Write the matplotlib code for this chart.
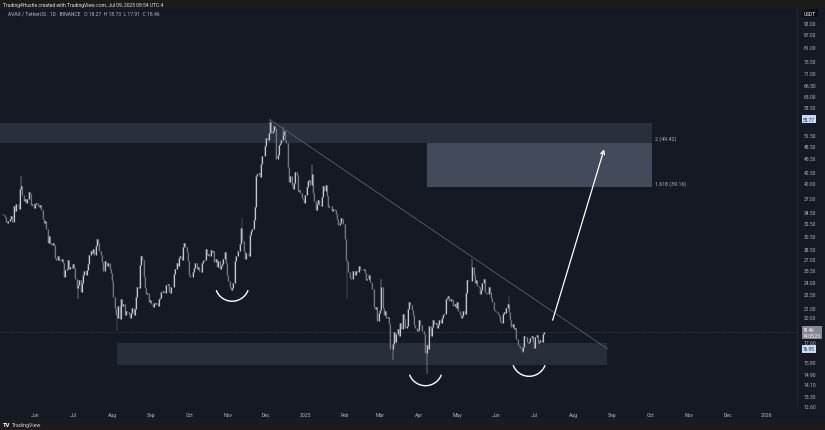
import numpy as np
import pandas as pd
import matplotlib
matplotlib.use("Agg")
import matplotlib.pyplot as plt
import matplotlib.dates as mdates
from matplotlib.patches import Rectangle
from matplotlib.ticker import NullLocator

# --- CONFIGURATION ---
W, H, DPI = 825, 431, 100
BG = "#151924"
BAR = "#1b1b1d"
TXT = "#b2b5be"
UP = "#c4c7cf"
DOWN = "#737784"
plt.rcParams["font.family"] = ["Roboto", "DejaVu Sans"]

# --- DATA (AVAX / USDT daily closes) ---
START_DATE = "2024-05-07"
FIRST_OPEN = 34.2
c_2024_05 = [33.9, 33.5, 32.8, 32.6, 32.9, 33.2, 33.8, 32.7, 35.5, 34.6, 35.9, 36.0, 35.1,
             38.9, 39.5, 37.6, 36.4, 36.9, 36.2, 36.8, 38.3, 37.9, 35.8, 36.0, 35.2]
c_2024_06 = [35.9, 36.1, 35.6, 35.4, 35.7, 34.9, 33.2, 32.6, 32.9, 31.6, 29.3, 30.4, 29.4, 29.1,
             29.3, 29.0, 27.2, 26.9, 27.5, 26.9, 26.8, 27.0, 26.4, 24.6, 25.5, 25.6, 26.9, 25.7,
             25.9, 25.8]
c_2024_07 = [26.3, 25.8, 24.3, 23.2, 23.6, 24.2, 22.8, 23.9, 24.8, 25.4, 24.9, 25.5, 26.3, 27.6,
             28.1, 27.9, 28.4, 27.6, 28.9, 30.0, 29.4, 28.2, 27.6, 26.6, 25.4, 26.8, 26.4, 26.0,
             26.5, 25.7, 25.1]
c_2024_08 = [24.1, 22.2, 21.0, 20.2, 19.9, 21.2, 19.8, 22.0, 21.2, 21.4, 20.2, 20.6, 20.5, 20.3,
             19.9, 20.4, 20.9, 20.2, 20.8, 22.2, 23.3, 23.2, 26.2, 27.4, 26.9, 24.6, 23.2, 22.5,
             22.6, 21.6, 21.8]
c_2024_09 = [21.4, 21.1, 21.5, 21.4, 21.5, 21.2, 21.9, 22.1, 22.8, 22.9, 22.7, 22.7, 23.6, 23.7,
             22.8, 22.7, 23.3, 23.3, 25.0, 25.6, 26.5, 26.0, 27.2, 27.5, 26.9, 28.7, 29.3, 28.8,
             28.0, 26.7]
c_2024_10 = [24.8, 24.6, 24.6, 25.3, 25.8, 26.4, 25.7, 25.9, 25.4, 25.3, 26.4, 26.7, 26.9, 28.5,
             27.6, 27.7, 27.4, 28.3, 28.0, 28.1, 26.6, 27.0, 25.9, 26.7, 25.7, 26.1, 26.3, 27.0,
             28.0, 26.4, 24.9]
c_2024_11 = [24.1, 23.3, 23.0, 23.2, 23.8, 26.8, 27.5, 27.4, 28.2, 29.2, 31.7, 29.6, 28.2, 27.0,
             27.8, 27.9, 27.5, 30.6, 31.2, 31.6, 33.0, 35.4, 41.6, 41.9, 42.1, 41.3, 44.3, 46.2,
             46.0, 48.5]
c_2024_12 = [50.6, 50.2, 51.9, 54.9, 52.0, 52.5, 53.9, 53.3, 45.4, 46.3, 48.9, 49.3, 50.1, 51.4,
             52.6, 50.0, 49.2, 43.5, 40.3, 41.6, 39.6, 38.9, 40.1, 42.4, 41.8, 38.4, 38.7, 38.1,
             37.0, 36.8, 36.2]
c_2025_01 = [37.6, 39.2, 40.5, 40.6, 39.7, 42.0, 38.1, 36.4, 34.8, 35.9, 36.6, 35.8, 35.5, 37.2,
             39.4, 38.4, 39.6, 37.5, 35.3, 35.5, 35.6, 34.6, 35.0, 34.8, 34.2, 33.2, 32.3, 32.6,
             33.4, 33.2, 32.4]
c_2025_02 = [30.0, 26.9, 26.6, 25.3, 24.5, 24.3, 24.4, 25.4, 24.9, 25.4, 25.2, 26.1, 25.7, 25.5,
             25.5, 25.6, 25.1, 24.2, 24.3, 24.9, 24.0, 23.9, 23.1, 21.1, 20.8, 21.1, 19.6, 20.4]
c_2025_03 = [20.7, 23.3, 21.0, 20.2, 20.6, 19.9, 20.0, 19.3, 16.9, 16.9, 17.4, 18.5, 17.6, 18.3,
             18.8, 18.1, 19.4, 18.8, 20.3, 19.8, 18.9, 19.1, 20.8, 21.6, 21.3, 20.7, 20.2, 19.2,
             18.9, 18.6, 18.7]
c_2025_04 = [19.7, 19.2, 18.6, 18.6, 18.3, 16.6, 17.3, 16.9, 19.1, 18.1, 19.0, 19.7, 19.3, 19.4,
             18.9, 19.2, 19.7, 19.4, 19.9, 20.2, 20.3, 22.0, 22.1, 22.3, 21.7, 21.9, 21.8, 21.2,
             21.4, 20.9]
c_2025_05 = [21.6, 20.6, 20.3, 19.9, 20.1, 20.6, 20.3, 22.6, 24.2, 24.1, 24.1, 24.1, 25.9, 24.8,
             23.9, 24.2, 23.5, 23.3, 22.5, 23.0, 23.9, 24.4, 22.8, 22.6, 22.5, 23.4, 22.8, 22.1,
             21.6, 20.7, 20.6]
c_2025_06 = [20.5, 20.3, 20.1, 19.6, 19.4, 20.3, 20.5, 20.4, 21.0, 21.4, 20.5, 19.7, 19.0, 19.3,
             18.8, 18.9, 17.8, 17.3, 17.2, 17.0, 16.8, 17.1, 18.1, 18.0, 17.6, 17.5, 17.6, 17.9,
             18.1, 17.6]
c_2025_07 = [17.0, 18.0, 18.2, 17.5, 17.6, 17.7, 17.6, 18.3, 18.46]

# notable wick extremes
wick_highs = {"2024-05-21": 41.5, "2024-11-12": 33.4, "2024-12-04": 55.77, "2024-12-14": 53.5,
              "2025-01-06": 44.0, "2025-03-02": 24.3, "2025-05-13": 27.0, "2025-06-11": 22.3}
wick_lows = {"2024-07-05": 21.9, "2024-08-05": 18.6, "2025-02-03": 22.0, "2025-03-11": 16.0,
             "2025-04-07": 14.9, "2025-06-22": 16.6, "2025-07-01": 16.9}

y_ticks = [92.00, 87.00, 81.00, 75.50, 71.00, 66.50, 63.00, 59.50, 51.50, 48.50, 45.50, 42.50,
           40.00, 37.00, 34.50, 32.50, 30.50, 28.50, 27.00, 25.50, 24.00, 22.50, 21.00, 20.00,
           17.60, 15.80, 14.90, 14.10, 13.30, 12.60]
month_ticks = pd.date_range("2024-06-01", "2026-01-01", freq="MS")
month_labels = ["Jun", "Jul", "Aug", "Sep", "Oct", "Nov", "Dec", "2025", "Feb", "Mar", "Apr",
                "May", "Jun", "Jul", "Aug", "Sep", "Oct", "Nov", "Dec", "2026"]

# drawings on the chart
top_zone = ("2024-05-04", "2025-10-02", 49.2, 54.8)
low_zone = ("2024-08-05", "2025-08-28", 15.6, 17.5)
fib_box = ("2025-04-07", "2025-10-02", 39.16, 49.42)
trend = (("2024-12-05", 55.4), ("2025-08-28", 16.95))
arrow = (("2025-07-15", 19.4), ("2025-08-26", 48.4))
smiles = [("2024-11-04", 21.7), ("2025-04-06", 14.0), ("2025-06-27", 14.7)]

X_LIM = ("2024-05-04 07:00", "2026-01-25")
Y_LIM = (12.65, 98.8)

# --- DATA PREP ---
closes = (c_2024_05 + c_2024_06 + c_2024_07 + c_2024_08 + c_2024_09 + c_2024_10 + c_2024_11
          + c_2024_12 + c_2025_01 + c_2025_02 + c_2025_03 + c_2025_04 + c_2025_05 + c_2025_06
          + c_2025_07)
dates = pd.date_range(START_DATE, periods=len(closes), freq="D")
df = pd.DataFrame({"close": closes}, index=dates)
df["open"] = [FIRST_OPEN] + closes[:-1]
df["top"] = df[["open", "close"]].max(axis=1)
df["bot"] = df[["open", "close"]].min(axis=1)
df["high"] = df["top"]
df["low"] = df["bot"]
for d, v in wick_highs.items():
    df.loc[d, "high"] = v
for d, v in wick_lows.items():
    df.loc[d, "low"] = v
x = mdates.date2num(df.index)
up = (df["close"] >= df["open"]).values


def dn(s):
    return mdates.date2num(pd.Timestamp(s))


# --- FIGURE ---
fig = plt.figure(figsize=(W / DPI, H / DPI), dpi=DPI, facecolor=BAR)
# chart background band (between header bar and footer bar)
bg_ax = fig.add_axes([0, 11 / H, 1, 1 - 21 / H], zorder=-5)
bg_ax.set_facecolor(BG)
bg_ax.set_axis_off()
bg_ax.add_patch(Rectangle((0, 0), 1, 1, transform=bg_ax.transAxes, color=BG, lw=0))

ax = fig.add_axes([0, 24 / H, 797 / W, 397 / H])
ax.set_facecolor(BG)
ax.set_yscale("log")
ax.set_xlim(dn(X_LIM[0]), dn(X_LIM[1]))
ax.set_ylim(*Y_LIM)
for s in ax.spines.values():
    s.set_visible(False)
ax.spines["right"].set_visible(True)
ax.spines["right"].set_color("#2a2e39")
ax.spines["right"].set_linewidth(0.5)

# zones
for (a, b, lo, hi), col in [(top_zone, "#2a2f3d"), (low_zone, "#282d3b"), (fib_box, "#434a59")]:
    ax.add_patch(Rectangle((dn(a), lo), dn(b) - dn(a), hi - lo, color=col, lw=0, zorder=1))

# candles
ax.vlines(x, df["low"], df["high"], color=np.where(up, UP, DOWN), lw=0.35, zorder=3)
ax.vlines(x, df["bot"], df["top"], color=np.where(up, UP, DOWN), lw=0.85, zorder=3)

# current price line
last = closes[-1]
ax.axhline(last, color="#4a4e5a", lw=0.5, ls=(0, (1, 1.5)), zorder=2)

# trend line
(t0, p0), (t1, p1) = trend
ax.plot([dn(t0), dn(t1)], [p0, p1], color="#5c6170", lw=0.6, zorder=4)

# arrow
(a0, q0), (a1, q1) = arrow
ax.annotate("", xy=(dn(a1), q1), xytext=(dn(a0), q0),
            arrowprops=dict(arrowstyle="->", color="white", lw=0.9, mutation_scale=7),
            zorder=5)

# smile arcs (radius in pixels converted to data units)
px_per_day = 797 / (dn(X_LIM[1]) - dn(X_LIM[0]))
px_per_log = 397 / np.log(Y_LIM[1] / Y_LIM[0])
R = 17
ang = np.radians(np.linspace(202, 338, 50))
for d, p in smiles:
    xs = dn(d) + R * np.cos(ang) / px_per_day
    ys = p * np.exp((R + R * np.sin(ang)) / px_per_log)
    ax.plot(xs, ys, color="white", lw=1.0, solid_capstyle="round", zorder=5)

# fib labels
ax.text(dn("2025-10-05"), fib_box[3] * 1.025, "2 (49.42)", color=TXT, fontsize=3.8,
        va="center", ha="left", zorder=6)
ax.text(dn("2025-10-05"), fib_box[2] * 1.025, "1.618 (39.16)", color=TXT, fontsize=3.8,
        va="center", ha="left", zorder=6)

# axes ticks
ax.yaxis.tick_right()
ax.set_yticks(y_ticks)
ax.set_yticklabels([f"{v:.2f}" for v in y_ticks])
ax.yaxis.set_minor_locator(NullLocator())
ax.tick_params(axis="y", length=0, pad=5, labelsize=3.6, labelcolor=TXT)
ax.set_xticks(mdates.date2num(month_ticks))
ax.set_xticklabels(month_labels)
ax.xaxis.set_minor_locator(NullLocator())
ax.tick_params(axis="x", length=0, pad=4, labelsize=3.7, labelcolor=TXT)

# price axis labels
ytr = ax.get_yaxis_transform()
ax.text(1.0 + 6 / 797, last, f"{last:.2f}\n14:05:23", transform=ytr, fontsize=3.4,
        color="white", va="center", ha="left", linespacing=1.1,
        bbox=dict(boxstyle="square,pad=0.25", fc="#858893", ec="none"), zorder=7)
ax.text(1.0 + 6 / 797, trend[1][1], f"{trend[1][1]:.2f}", transform=ytr, fontsize=3.4,
        color="#1c2b45", va="center", ha="left",
        bbox=dict(boxstyle="square,pad=0.3", fc="#c8dbf6", ec="none"), zorder=7)
ax.text(1.0 + 6 / 797, 55.77, "55.77", transform=ytr, fontsize=3.4,
        color="#1c2b45", va="center", ha="left",
        bbox=dict(boxstyle="square,pad=0.3", fc="#c8dbf6", ec="none"), zorder=7)
fig.text(810 / W, 1 - 14 / H, "USDT", fontsize=3.4, color="white", ha="center", va="center",
         bbox=dict(boxstyle="square,pad=0.4", fc="#0b0d12", ec="none"))

# header and footer
fig.text(3 / W, 1 - 5 / H, "Trading4Hustle created with TradingView.com, Jul 09, 2025 09:54 UTC-4",
         fontsize=3.6, color="#e0e0e0", va="center", ha="left")
fig.text(8 / W, 1 - 14.5 / H,
         "AVAX / TetherUS \u00b7 1D \u00b7 BINANCE   O 18.27  H 18.73  L 17.91  C 18.46",
         fontsize=3.6, color=TXT, va="center", ha="left")
fig.text(3 / W, 1 - 425.5 / H, "TV", fontsize=4.2, color="white", weight="bold",
         va="center", ha="left")
fig.text(12 / W, 1 - 425.5 / H, "TradingView", fontsize=3.8, color="#d0d0d0",
         va="center", ha="left")

fig.savefig("out.png", dpi=DPI, facecolor=fig.get_facecolor())
